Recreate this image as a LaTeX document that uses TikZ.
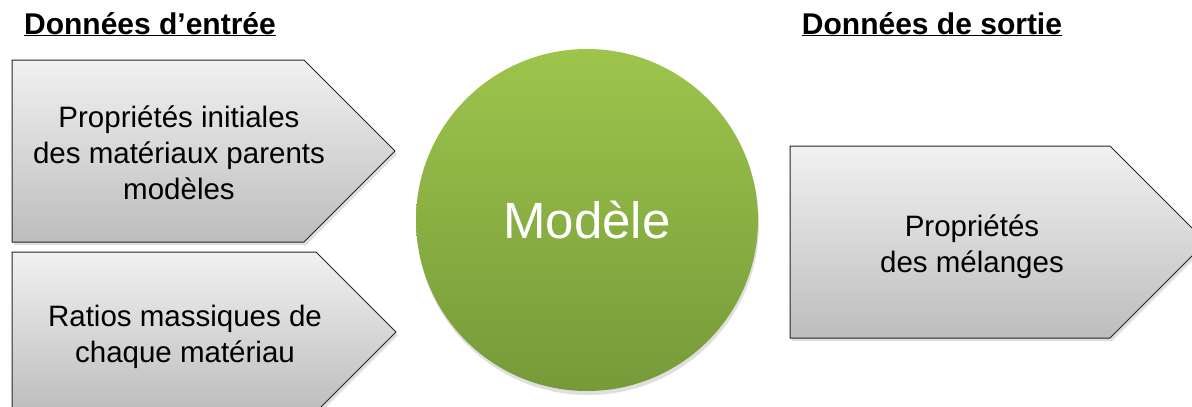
\documentclass[tikz,border=0pt]{standalone}
\usepackage{fontspec}
\setmainfont{Liberation Sans}
\usetikzlibrary{calc,shadows}

\definecolor{grisclair}{HTML}{F1F1F1}
\definecolor{grisfonce}{HTML}{BDBDBD}
\definecolor{vertclair}{HTML}{9DC54C}
\definecolor{vertfonce}{HTML}{769A39}

\begin{document}
\begin{tikzpicture}[x=1pt, y=-1pt,
    % === STYLES ===
    fleche/.style={draw=black!85, line width=1pt, top color=grisclair, bottom color=grisfonce,
        drop shadow={shadow xshift=2pt, shadow yshift=-3pt, opacity=0.25}},
    texte fleche/.style={align=center, font=\fontsize{29.5}{36}\selectfont},
    titre/.style={font=\fontsize{30}{36}\selectfont\bfseries, anchor=base},
    modele/.style={circle, minimum size=342pt, inner sep=0pt, top color=vertclair, bottom color=vertfonce,
        text=white, font=\fontsize{51}{60}\selectfont,
        drop shadow={shadow xshift=1pt, shadow yshift=-4pt, opacity=0.25}},
]
    % === CADRE ===
    \useasboundingbox (0,0) rectangle (1192,407);
    \clip (0,0) rectangle (1192,407);

    % === TITRES ===
    \node[titre] (titreE) at (150,34) {\underline{Données d’entrée}};
    \node[titre] (titreS) at (932,34) {\underline{Données de sortie}};

    % === FLECHES D'ENTREE ===
    \draw[fleche] (12,60) -- (304,60) -- (395,151) -- (304,242) -- (12,242) -- cycle;
    \draw[fleche] (12,252) -- (316,252) -- (396,332) -- (316,412) -- (12,412) -- cycle;

    % === FLECHE DE SORTIE ===
    \draw[fleche] (790,146) -- (1110,146) -- (1206,242) -- (1110,338) -- (790,338) -- cycle;

    % === MODELE ===
    \node[modele] (modele) at (587,220) {Modèle};

    % === TEXTES ===
    \node[texte fleche] (entree1) at (179,153) {Propriétés initiales\\des matériaux parents\\modèles};
    \node[texte fleche] (entree2) at (185,337) {Ratios massiques de\\chaque matériau};
    \node[texte fleche] (sortie) at (972,247) {Propriétés\\des mélanges};

\end{tikzpicture}
\end{document}
